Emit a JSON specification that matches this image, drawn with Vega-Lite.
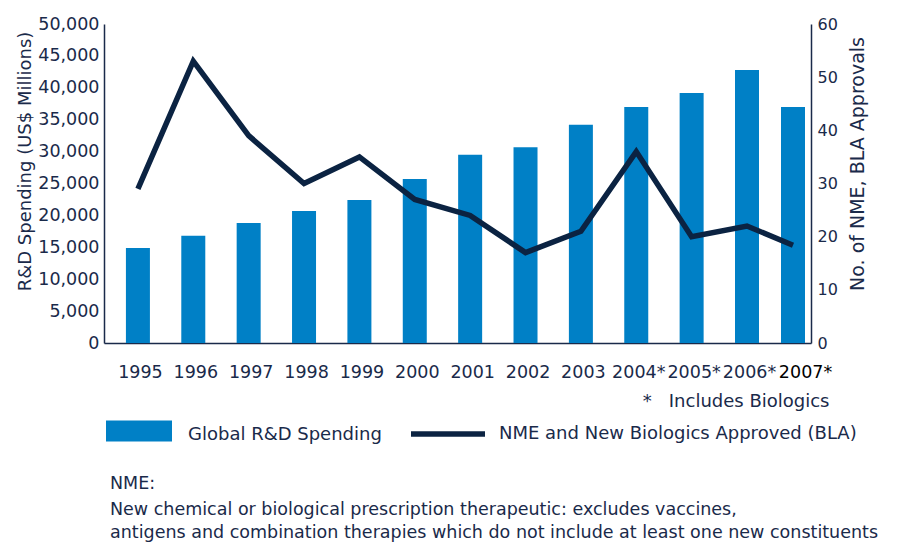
{
  "$schema": "https://vega.github.io/schema/vega-lite/v6.json",
  "width": 707,
  "height": 319,
  "autosize": {"type": "none"},
  "padding": {"left": 104, "top": 24, "right": 88, "bottom": 202},
  "background": "white",
  "data": {
    "values": [
      {"year": 1995, "spending": 14900, "approvals": 29},
      {"year": 1996, "spending": 16800, "approvals": 53},
      {"year": 1997, "spending": 18800, "approvals": 39},
      {"year": 1998, "spending": 20700, "approvals": 30},
      {"year": 1999, "spending": 22400, "approvals": 35},
      {"year": 2000, "spending": 25700, "approvals": 27},
      {"year": 2001, "spending": 29500, "approvals": 24},
      {"year": 2002, "spending": 30700, "approvals": 17},
      {"year": 2003, "spending": 34200, "approvals": 21},
      {"year": 2004, "spending": 37000, "approvals": 36},
      {"year": 2005, "spending": 39200, "approvals": 20},
      {"year": 2006, "spending": 42800, "approvals": 22},
      {"year": 2007, "spending": 37000, "approvals": 18.4}
    ]
  },
  "title": {
    "text": "NME:",
    "subtitle": [
      "New chemical or biological prescription therapeutic: excludes vaccines,",
      "antigens and combination therapies which do not include at least one new constituents"
    ],
    "orient": "bottom",
    "anchor": "start",
    "frame": "group",
    "dx": 6,
    "offset": 30,
    "baseline": "top",
    "font": "DejaVu Sans",
    "fontSize": 17.5,
    "fontWeight": "normal",
    "color": "#1a2a4a",
    "subtitleFont": "DejaVu Sans",
    "subtitleFontSize": 17.5,
    "subtitleColor": "#1a2a4a",
    "subtitleLineHeight": 23,
    "subtitlePadding": 8
  },
  "layer": [
    {
      "mark": {"type": "bar", "width": 24, "color": "#0080c6"},
      "encoding": {
        "x": {
          "field": "year",
          "type": "quantitative",
          "scale": {"domain": [1994.48, 2006, 2007, 2007.39], "range": [0, 643, 689, 707], "nice": false, "zero": false},
          "axis": {
            "values": [1995, 1996, 1997, 1998, 1999, 2000, 2001, 2002, 2003, 2004, 2005, 2006, 2007],
            "format": "d",
            "labelExpr": "datum.value >= 2004 ? datum.label + '*' : datum.label",
            "ticks": false,
            "tickSize": 0,
            "grid": false,
            "domainColor": "#1a2a4a",
            "domainWidth": 1.5,
            "labelFont": "DejaVu Sans",
            "labelFontSize": 17.5,
            "labelColor": {"condition": {"test": "datum.value == 2007", "value": "#000000"}, "value": "#1a2a4a"},
            "labelOffset": {"condition": {"test": "datum.value == 2007", "value": 12}, "value": 2},
            "labelPadding": 20,
            "labelOverlap": false,
            "labelFlush": false,
            "labelBound": false,
            "title": "*\u00a0\u00a0\u00a0Includes Biologics",
            "titleX": 725,
            "titleY": 63,
            "titleAlign": "right",
            "titleAnchor": null,
            "titleBaseline": "alphabetic",
            "titleFont": "DejaVu Sans",
            "titleFontSize": 18,
            "titleFontWeight": "normal",
            "titleColor": "#1a2a4a"
          }
        },
        "y": {
          "field": "spending",
          "type": "quantitative",
          "scale": {"domain": [0, 50000], "nice": false},
          "axis": {
            "values": [0, 5000, 10000, 15000, 20000, 25000, 30000, 35000, 40000, 45000, 50000],
            "format": ",.0f",
            "ticks": false,
            "tickSize": 0,
            "grid": false,
            "domainColor": "#1a2a4a",
            "domainWidth": 1.5,
            "labelFont": "DejaVu Sans",
            "labelFontSize": 17.5,
            "labelColor": "#1a2a4a",
            "labelPadding": 5,
            "title": "R&D Spending (US$ Millions)",
            "titleFont": "DejaVu Sans",
            "titleFontSize": 18,
            "titleFontWeight": "normal",
            "titleColor": "#1a2a4a",
            "titleAngle": 270,
            "titleX": -74,
            "titleY": 137,
            "titleAlign": "center",
            "titleBaseline": "alphabetic"
          }
        },
        "color": {
          "datum": "Global R&D Spending",
          "type": "nominal",
          "scale": {"range": ["#0080c6"]},
          "legend": {
            "orient": "none",
            "legendX": 2,
            "legendY": 374,
            "title": null,
            "padding": 0,
            "symbolType": "M-1,-0.318H1V0.318H-1Z",
            "symbolSize": 4356,
            "symbolStrokeWidth": 0,
            "symbolOpacity": 1,
            "labelOffset": 16,
            "labelLimit": 0,
            "labelFont": "DejaVu Sans",
            "labelFontSize": 18,
            "labelColor": "#1a2a4a",
            "encode": {"labels": {"update": {"dy": {"value": 4}}}}
          }
        }
      }
    },
    {
      "mark": {"type": "line", "strokeWidth": 5.5},
      "encoding": {
        "x": {"field": "year", "type": "quantitative"},
        "y": {
          "field": "approvals",
          "type": "quantitative",
          "scale": {"domain": [0, 60], "nice": false},
          "axis": {
            "orient": "right",
            "values": [0, 10, 20, 30, 40, 50, 60],
            "ticks": false,
            "tickSize": 0,
            "grid": false,
            "domainColor": "#1a2a4a",
            "domainWidth": 1.5,
            "labelFont": "DejaVu Sans",
            "labelFontSize": 16,
            "labelColor": "#1a2a4a",
            "labelPadding": 6,
            "title": "No. of NME, BLA Approvals",
            "titleFont": "DejaVu Sans",
            "titleFontSize": 19,
            "titleFontWeight": "normal",
            "titleColor": "#1a2a4a",
            "titleAngle": 270,
            "titleX": 52,
            "titleY": 139.5,
            "titleAlign": "center",
            "titleBaseline": "alphabetic"
          }
        },
        "stroke": {
          "datum": "NME and New Biologics Approved (BLA)",
          "type": "nominal",
          "scale": {"range": ["#0b2342"]},
          "legend": {
            "orient": "none",
            "legendX": 304,
            "legendY": 370,
            "title": null,
            "padding": 0,
            "symbolType": "M-1,0H1",
            "symbolSize": 5476,
            "symbolStrokeWidth": 5.5,
            "labelOffset": 11,
            "labelLimit": 0,
            "labelFont": "DejaVu Sans",
            "labelFontSize": 18,
            "labelColor": "#1a2a4a"
          }
        }
      }
    }
  ],
  "resolve": {"scale": {"y": "independent"}},
  "config": {"view": {"stroke": null}}
}
